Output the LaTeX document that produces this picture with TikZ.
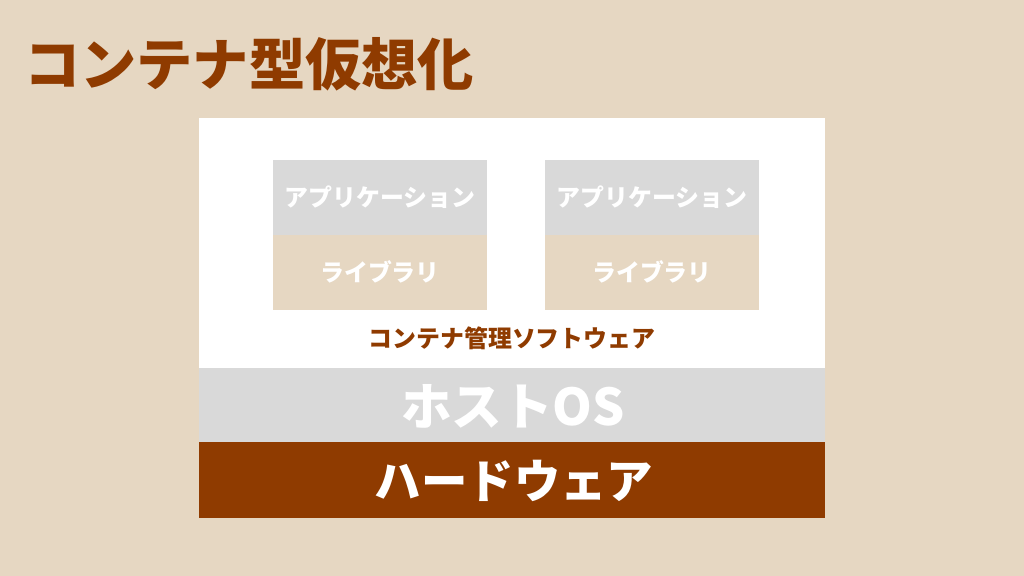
\documentclass[tikz,border=0pt]{standalone}
\usepackage{fontspec}
\newfontfamily\jpfont{Noto Sans CJK JP}
\usetikzlibrary{calc}
\definecolor{fbase}{HTML}{E6D7C2}
\definecolor{sbrown}{HTML}{8F3B00}
\definecolor{fgray}{HTML}{D9D9D9}
\definecolor{fwhite}{HTML}{FFFFFF}

\begin{document}
\begin{tikzpicture}[x=0.025cm,y=-0.025cm,line width=0pt]
\fill[fbase] (0,0) rectangle (1024,576);
\useasboundingbox (0,0) rectangle (1024,576);
\node[text=sbrown] (titulo) at (249,64) {\fontsize{40}{46}\selectfont\jpfont\bfseries コンテナ型仮想化};
\fill[fwhite] (199,118) rectangle (825,368);
\fill[fgray] (199,368) rectangle (825,442);
\fill[sbrown] (199,442) rectangle (825,518);
\fill[fgray] ($ (380,197) + (-107,-37) $) rectangle ($ (380,197) + (107,38) $);
\fill[fbase] ($ (380,272) + (-107,-37) $) rectangle ($ (380,272) + (107,38) $);
\fill[fgray] ($ (652,197) + (-107,-37) $) rectangle ($ (652,197) + (107,38) $);
\fill[fbase] ($ (652,272) + (-107,-37) $) rectangle ($ (652,272) + (107,38) $);
\node[text=white] (app1) at (380,197) {\fontsize{17}{20}\selectfont\jpfont\bfseries アプリケーション};
\node[text=white] (lib1) at (380,272) {\fontsize{17}{20}\selectfont\jpfont\bfseries ライブラリ};
\node[text=white] (app2) at (652,197) {\fontsize{17}{20}\selectfont\jpfont\bfseries アプリケーション};
\node[text=white] (lib2) at (652,272) {\fontsize{17}{20}\selectfont\jpfont\bfseries ライブラリ};
\node[text=sbrown] (gestor) at (512,338) {\fontsize{17}{20}\selectfont\jpfont\bfseries コンテナ管理ソフトウェア};
\node[text=white] (hospede) at (513,406) {\fontsize{36}{42}\selectfont\jpfont\bfseries ホストOS};
\node[text=white] (hardware) at (514,481) {\fontsize{33}{39}\selectfont\jpfont\bfseries ハードウェア};
\end{tikzpicture}
\end{document}
